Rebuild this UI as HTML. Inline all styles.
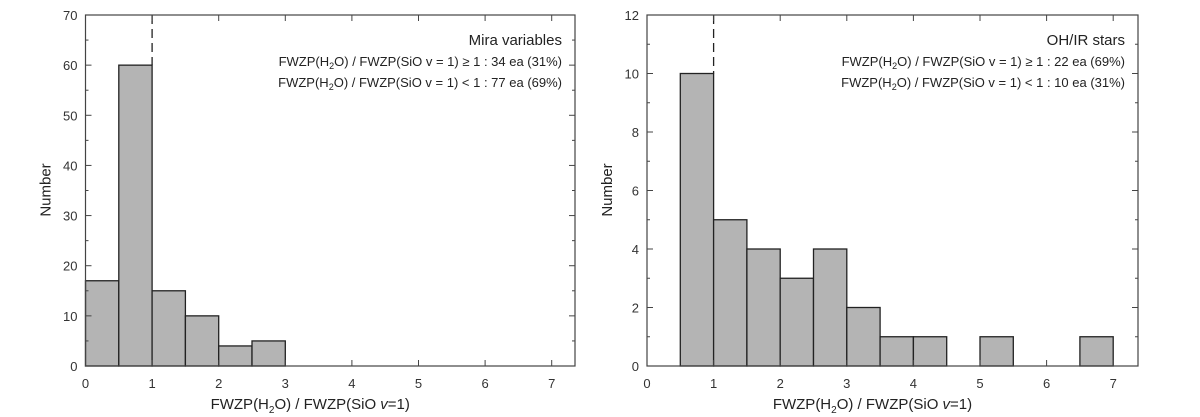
<!DOCTYPE html>
<html><head><meta charset="utf-8"><style>
html,body{margin:0;padding:0;background:#fff}
svg{display:block;font-family:"Liberation Sans",sans-serif}
</style></head><body>
<svg id="c" width="1200" height="417" viewBox="0 0 1200 417"></svg>
<script>
const binStarts = [0,0.5,1,1.5,2,2.5,3,3.5,4,4.5,5,5.5,6,6.5];
const miraCounts = [17,60,15,10,4,5,0,0,0,0,0,0,0,0];
const ohirCounts = [0,10,5,4,3,4,2,1,1,0,1,0,0,1];
const xTicks = [0,1,2,3,4,5,6,7];
const miraYTicks = [0,10,20,30,40,50,60,70];
const ohirYTicks = [0,2,4,6,8,10,12];
const miraText = ["Mira variables","≥ 1 : 34  ea  (31%)","< 1 : 77  ea  (69%)"];
const ohirText = ["OH/IR stars","≥ 1 : 22  ea  (69%)","< 1 : 10  ea  (31%)"];
const NS="http://www.w3.org/2000/svg";
const svg=document.getElementById('c');
function mk(t,a,p){const e=document.createElementNS(NS,t);for(const k in a)e.setAttribute(k,a[k]);(p||svg).appendChild(e);return e;}
function panel(cfg){
  const g=mk('g',{});
  
  
  const x0=cfg.x0, unit=66.6, top=15, bot=366, right=cfg.right;
  const ymax=cfg.yTicks[cfg.yTicks.length-1];
  const X=v=>x0+v*unit, Y=v=>bot-(v/ymax)*(bot-top);
  cfg.counts.forEach((c,i)=>{
    if(c<=0)return;
    const r=mk('rect',{x:X(binStarts[i]),y:Y(c),width:X(binStarts[i]+0.5)-X(binStarts[i]),height:bot-Y(c),fill:'#b4b4b4',stroke:'#222','stroke-width':1.3},g);
    
    
  });
  // dashed line at x=1
  const peak=Math.max(cfg.counts[1],cfg.counts[2]);
  const d=mk('line',{x1:X(1),x2:X(1),y1:top,y2:Y(cfg.counts[1]),stroke:'#222','stroke-width':1.3,'stroke-dasharray':'9,5'},g);
  
  
  const fr=mk('rect',{x:x0,y:top,width:right-x0,height:bot-top,fill:'none',stroke:'#444','stroke-width':1.2},g);
  
  
  xTicks.forEach(t=>{
    mk('line',{x1:X(t),x2:X(t),y1:bot,y2:bot-6,stroke:'#444'},g);
    mk('line',{x1:X(t),x2:X(t),y1:top,y2:top+6,stroke:'#444'},g);
    const l=mk('text',{x:X(t),y:388,'text-anchor':'middle','font-size':13,fill:'#333'},g);l.textContent=t;
    
    
  });
  const step=cfg.yTicks[1]-cfg.yTicks[0];
  for(let v=0;v<=ymax;v+=step/2){
    const len=(v%step===0)?6:3;
    mk('line',{x1:x0,x2:x0+len,y1:Y(v),y2:Y(v),stroke:'#444'},g);
    mk('line',{x1:right,x2:right-len,y1:Y(v),y2:Y(v),stroke:'#444'},g);
  }
  cfg.yTicks.forEach(t=>{
    const l=mk('text',{x:x0-8,y:Y(t)+5,'text-anchor':'end','font-size':13,fill:'#333'},g);l.textContent=t;
    
    
  });
  const yt=mk('text',{x:0,y:0,transform:`translate(${x0-35},190) rotate(-90)`,'text-anchor':'middle','font-size':15,fill:'#222'},g);
  yt.textContent='Number';
  
  
  const xt=mk('text',{x:(x0+right)/2-20,y:409,'text-anchor':'middle','font-size':15,fill:'#222'},g);
  xt.innerHTML='FWZP(H<tspan font-size="10" dy="4">2</tspan><tspan dy="-4">O) / FWZP(SiO </tspan><tspan font-style="italic">v</tspan>=1)';
  
  
  const tx=right-13;
  const t1=mk('text',{x:tx,y:45,'text-anchor':'end','font-size':15,fill:'#222'},g);t1.textContent=cfg.text[0];
  
  
  [66,87].forEach((yy,i)=>{
    const t=mk('text',{x:tx,y:yy,'text-anchor':'end','font-size':13,fill:'#222'},g);
    t.innerHTML='FWZP(H<tspan font-size="9" dy="3">2</tspan><tspan dy="-3">O) / FWZP(SiO  v = 1) '+cfg.text[i+1]+'</tspan>';
    
    
  });
}
panel({name:'mira-panel',x0:85.5,right:575,counts:miraCounts,yTicks:miraYTicks,text:miraText});
panel({name:'ohir-panel',x0:647,right:1138,counts:ohirCounts,yTicks:ohirYTicks,text:ohirText});
</script>
</body></html>
